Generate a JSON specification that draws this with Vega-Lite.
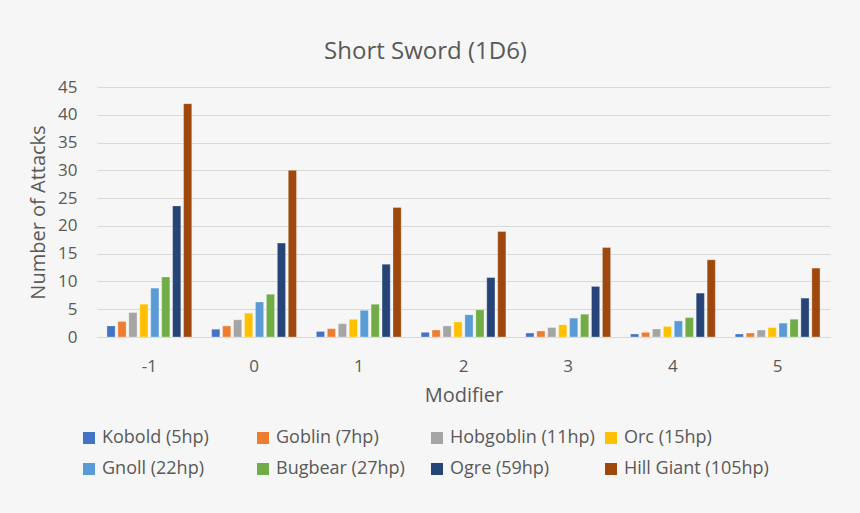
{
  "$schema": "https://vega.github.io/schema/vega-lite/v6.json",
  "autosize": "none",
  "width": 733,
  "height": 250,
  "padding": {"left": 97, "top": 87, "right": 30, "bottom": 176},
  "background": "#f6f6f6",
  "title": {
    "text": "Short Sword (1D6)",
    "anchor": "middle",
    "dx": -38,
    "offset": 14,
    "fontSize": 24,
    "font": "Open Sans",
    "fontWeight": "normal",
    "color": "#595959"
  },
  "config": {
    "view": {"stroke": null},
    "font": "Open Sans",
    "axis": {"labelColor": "#595959", "titleColor": "#595959", "labelFont": "Open Sans", "titleFont": "Open Sans", "titleFontWeight": "normal"}
  },
  "data": {
    "values": [
      {"mod": "-1", "monster": "Kobold (5hp)", "attacks": 2.0},
      {"mod": "-1", "monster": "Goblin (7hp)", "attacks": 2.8},
      {"mod": "-1", "monster": "Hobgoblin (11hp)", "attacks": 4.4},
      {"mod": "-1", "monster": "Orc (15hp)", "attacks": 5.9},
      {"mod": "-1", "monster": "Gnoll (22hp)", "attacks": 8.8},
      {"mod": "-1", "monster": "Bugbear (27hp)", "attacks": 10.8},
      {"mod": "-1", "monster": "Ogre (59hp)", "attacks": 23.6},
      {"mod": "-1", "monster": "Hill Giant (105hp)", "attacks": 42.0},
      {"mod": "0", "monster": "Kobold (5hp)", "attacks": 1.4},
      {"mod": "0", "monster": "Goblin (7hp)", "attacks": 2.0},
      {"mod": "0", "monster": "Hobgoblin (11hp)", "attacks": 3.1},
      {"mod": "0", "monster": "Orc (15hp)", "attacks": 4.3},
      {"mod": "0", "monster": "Gnoll (22hp)", "attacks": 6.3},
      {"mod": "0", "monster": "Bugbear (27hp)", "attacks": 7.7},
      {"mod": "0", "monster": "Ogre (59hp)", "attacks": 16.9},
      {"mod": "0", "monster": "Hill Giant (105hp)", "attacks": 30.0},
      {"mod": "1", "monster": "Kobold (5hp)", "attacks": 1.0},
      {"mod": "1", "monster": "Goblin (7hp)", "attacks": 1.5},
      {"mod": "1", "monster": "Hobgoblin (11hp)", "attacks": 2.4},
      {"mod": "1", "monster": "Orc (15hp)", "attacks": 3.2},
      {"mod": "1", "monster": "Gnoll (22hp)", "attacks": 4.8},
      {"mod": "1", "monster": "Bugbear (27hp)", "attacks": 5.9},
      {"mod": "1", "monster": "Ogre (59hp)", "attacks": 13.1},
      {"mod": "1", "monster": "Hill Giant (105hp)", "attacks": 23.3},
      {"mod": "2", "monster": "Kobold (5hp)", "attacks": 0.84},
      {"mod": "2", "monster": "Goblin (7hp)", "attacks": 1.26},
      {"mod": "2", "monster": "Hobgoblin (11hp)", "attacks": 2.0},
      {"mod": "2", "monster": "Orc (15hp)", "attacks": 2.7},
      {"mod": "2", "monster": "Gnoll (22hp)", "attacks": 4.0},
      {"mod": "2", "monster": "Bugbear (27hp)", "attacks": 4.9},
      {"mod": "2", "monster": "Ogre (59hp)", "attacks": 10.7},
      {"mod": "2", "monster": "Hill Giant (105hp)", "attacks": 19.0},
      {"mod": "3", "monster": "Kobold (5hp)", "attacks": 0.72},
      {"mod": "3", "monster": "Goblin (7hp)", "attacks": 1.08},
      {"mod": "3", "monster": "Hobgoblin (11hp)", "attacks": 1.7},
      {"mod": "3", "monster": "Orc (15hp)", "attacks": 2.2},
      {"mod": "3", "monster": "Gnoll (22hp)", "attacks": 3.4},
      {"mod": "3", "monster": "Bugbear (27hp)", "attacks": 4.1},
      {"mod": "3", "monster": "Ogre (59hp)", "attacks": 9.1},
      {"mod": "3", "monster": "Hill Giant (105hp)", "attacks": 16.1},
      {"mod": "4", "monster": "Kobold (5hp)", "attacks": 0.54},
      {"mod": "4", "monster": "Goblin (7hp)", "attacks": 0.84},
      {"mod": "4", "monster": "Hobgoblin (11hp)", "attacks": 1.44},
      {"mod": "4", "monster": "Orc (15hp)", "attacks": 1.9},
      {"mod": "4", "monster": "Gnoll (22hp)", "attacks": 2.9},
      {"mod": "4", "monster": "Bugbear (27hp)", "attacks": 3.5},
      {"mod": "4", "monster": "Ogre (59hp)", "attacks": 7.9},
      {"mod": "4", "monster": "Hill Giant (105hp)", "attacks": 13.9},
      {"mod": "5", "monster": "Kobold (5hp)", "attacks": 0.54},
      {"mod": "5", "monster": "Goblin (7hp)", "attacks": 0.72},
      {"mod": "5", "monster": "Hobgoblin (11hp)", "attacks": 1.26},
      {"mod": "5", "monster": "Orc (15hp)", "attacks": 1.7},
      {"mod": "5", "monster": "Gnoll (22hp)", "attacks": 2.5},
      {"mod": "5", "monster": "Bugbear (27hp)", "attacks": 3.2},
      {"mod": "5", "monster": "Ogre (59hp)", "attacks": 7.0},
      {"mod": "5", "monster": "Hill Giant (105hp)", "attacks": 12.4}
    ]
  },
  "mark": {"type": "bar", "stroke": "white", "strokeWidth": 0.6, "strokeOpacity": 0.5},
  "encoding": {
    "x": {
      "field": "mod",
      "type": "ordinal",
      "sort": ["-1", "0", "1", "2", "3", "4", "5"],
      "scale": {"paddingInner": 0.19, "paddingOuter": 0.095},
      "axis": {
        "title": "Modifier",
        "labelAngle": 0,
        "labelFontSize": 17,
        "titleFontSize": 20,
        "labelPadding": 21,
        "titlePadding": 11,
        "ticks": false,
        "domainColor": "#d9d9d9",
        "domainWidth": 1.2
      }
    },
    "xOffset": {
      "field": "monster",
      "type": "nominal",
      "sort": ["Kobold (5hp)", "Goblin (7hp)", "Hobgoblin (11hp)", "Orc (15hp)", "Gnoll (22hp)", "Bugbear (27hp)", "Ogre (59hp)", "Hill Giant (105hp)"],
      "scale": {"paddingInner": 0.25}
    },
    "y": {
      "field": "attacks",
      "type": "quantitative",
      "scale": {"domain": [0, 45], "nice": false},
      "axis": {
        "title": "Number of Attacks",
        "values": [0, 5, 10, 15, 20, 25, 30, 35, 40, 45],
        "labelFontSize": 17,
        "titleFontSize": 20,
        "labelPadding": 20,
        "titlePadding": 9,
        "ticks": false,
        "domain": false,
        "gridColor": "#d9d9d9",
        "gridWidth": 1.2
      }
    },
    "color": {
      "field": "monster",
      "type": "nominal",
      "sort": ["Kobold (5hp)", "Goblin (7hp)", "Hobgoblin (11hp)", "Orc (15hp)", "Gnoll (22hp)", "Bugbear (27hp)", "Ogre (59hp)", "Hill Giant (105hp)"],
      "scale": {
        "domain": ["Kobold (5hp)", "Goblin (7hp)", "Hobgoblin (11hp)", "Orc (15hp)", "Gnoll (22hp)", "Bugbear (27hp)", "Ogre (59hp)", "Hill Giant (105hp)"],
        "range": ["#4472C4", "#ED7D31", "#A5A5A5", "#FFC000", "#5B9BD5", "#70AD47", "#264478", "#9E480E"]
      },
      "legend": {
        "title": null,
        "orient": "none",
        "legendX": -17,
        "legendY": 342,
        "direction": "horizontal",
        "columns": 4,
        "gridAlign": "all",
        "columnPadding": 7,
        "rowPadding": 13,
        "symbolType": "square",
        "symbolSize": 144,
        "symbolStrokeWidth": 0,
        "labelFontSize": 18,
        "labelFont": "Open Sans",
        "labelColor": "#595959",
        "labelOffset": 4,
        "labelLimit": 300
      }
    }
  }
}
